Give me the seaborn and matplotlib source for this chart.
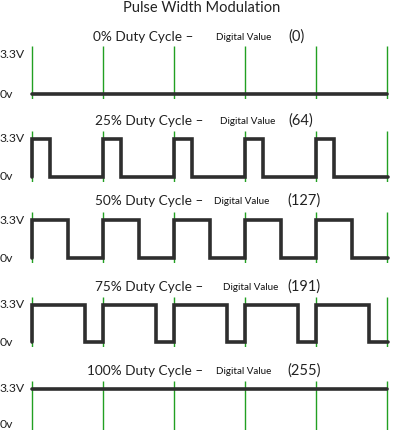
import matplotlib
matplotlib.use("Agg")
from matplotlib import pyplot as plt
import numpy as np
import pandas as pd
import seaborn as sns

duty_cycles = [0, 25, 50, 75, 100]
digital_values = [0, 64, 127, 191, 255]
n_periods = 5
level_labels = ["3.3V", "0v"]

# pixel layout of the reference (400 x 438)
W, H = 400, 438
high_px = [54, 139, 220, 305, 389]
low_px = [94, 177, 258, 342, 425]
title_px = [37, 121, 201, 287, 371]
big_right = [193, 203, 203, 203, 203]
dv_left = [216, 220, 214, 223, 216]
val_left = [288, 288, 287, 287, 287]
x0_px, x5_px = 32, 387


def wave(duty):
    d = duty / 100
    if d == 0 or d == 1:
        return pd.DataFrame({"t": [0, n_periods], "v": [d, d]})
    t, v = [], []
    for k in range(n_periods):
        t += [k, k, k + d, k + d]
        v += [0, 1, 1, 0]
    t.append(n_periods + 0.02)
    v.append(0)
    return pd.DataFrame({"t": t, "v": v})


sns.set_style("white")
plt.rcParams["font.family"] = ["Lato", "DejaVu Sans"]

fig = plt.figure(figsize=(W / 100, H / 100), dpi=100)
fig.text(202 / W, 1 - 8 / H, "Pulse Width Modulation", ha="center", va="center",
         fontsize=10.5, color="#222222")

scale_x = (x5_px - x0_px) / n_periods
ax_left = x0_px - 0.1 * scale_x
ax_right = x5_px + 0.1 * scale_x

for i, duty in enumerate(duty_cycles):
    hi, lo = high_px[i], low_px[i]
    top, bot = hi - 8, lo + 5
    unit = lo - hi
    ax = fig.add_axes([ax_left / W, 1 - bot / H, (ax_right - ax_left) / W, (bot - top) / H])
    ax.set_xlim(-0.1, n_periods + 0.1)
    ax.set_ylim(-(bot - lo) / unit, 1 + (hi - top) / unit)
    ax.vlines(range(n_periods + 1), -(bot - lo) / unit, 1 + (hi - top) / unit,
              color="#22a022", lw=1.0, zorder=1)
    sns.lineplot(data=wave(duty), x="t", y="v", sort=False, estimator=None,
                 color="#2e2e2e", lw=2.6, ax=ax, zorder=3,
                 solid_joinstyle="miter")
    ax.set_axis_off()

    fig.text(0, 1 - hi / H, level_labels[0], ha="left", va="center", fontsize=8.8, color="#222222")
    fig.text(0, 1 - lo / H, level_labels[1], ha="left", va="center", fontsize=8.8, color="#222222")
    ty = 1 - title_px[i] / H
    fig.text(big_right[i] / W, ty, f"{duty}% Duty Cycle \u2013", ha="right", va="center",
             fontsize=9.8, color="#222222")
    fig.text(dv_left[i] / W, ty, "Digital Value", ha="left", va="center",
             fontsize=7.1, color="#111111")
    fig.text(val_left[i] / W, ty, f"({digital_values[i]})", ha="left", va="center",
             fontsize=10.5, color="#222222")

fig.savefig("out.png", dpi=100)
